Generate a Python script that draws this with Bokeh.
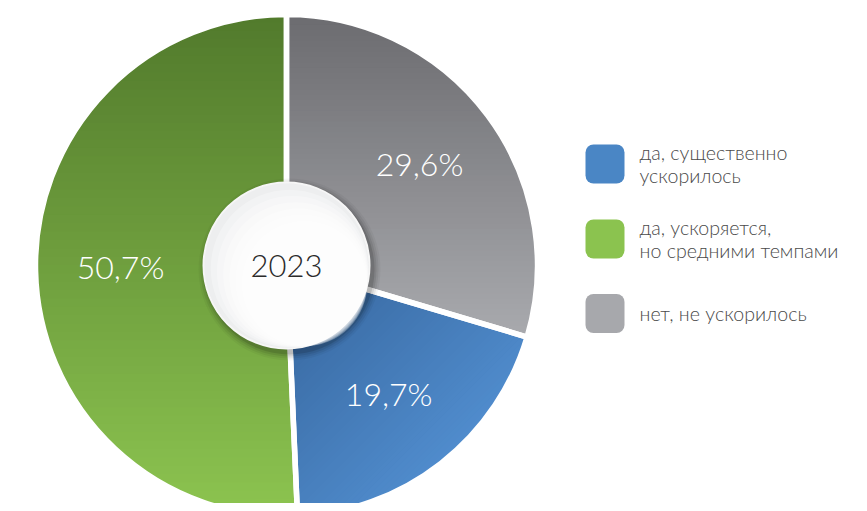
import numpy as np
from bokeh.plotting import figure
from bokeh.models import Range1d, ColumnDataSource, BoxAnnotation
from bokeh.core.properties import value
from bokeh.embed import file_html
from bokeh.resources import INLINE

# ---- data ----
slice_labels = ["нет, не ускорилось", "да, существенно ускорилось", "да, ускоряется, но средними темпами"]
slice_values = [29.6, 19.7, 50.7]
slice_dark = ["#6b6b6f", "#35649b", "#527a2c"]
slice_light = ["#a9aaae", "#508ccd", "#8cc450"]
value_texts = ["29,6%", "19,7%", "50,7%"]
center_text = "2023"

legend_texts = ["да, существенно\nускорилось", "да, ускоряется,\nно средними темпами", "нет, не ускорилось"]
legend_colors = ["#4a86c5", "#8bc34f", "#a7a8ac"]

FONT = value("Lato Light, Lato, sans-serif")

# ---- geometry (data coords follow screen px: data y = 511 - screen y) ----
W, H = 859, 503
cx, cy = 286, 511 - 265
R = 251
r_in = 83

p = figure(width=W, height=H, x_range=Range1d(0, 859), y_range=Range1d(8, 511),
           output_backend="svg", toolbar_location=None, min_border=0,
           min_border_left=0, min_border_right=0, min_border_top=0, min_border_bottom=0)
p.axis.visible = False
p.grid.visible = False
p.outline_line_color = None
p.background_fill_color = "white"

vals = np.array(slice_values, dtype=float)
frac = vals / vals.sum()
cum_end = np.cumsum(frac)
cum_start = cum_end - frac
start = np.pi / 2 - 2 * np.pi * cum_start
end = np.pi / 2 - 2 * np.pi * cum_end
mid = (start + end) / 2

# gradient directions for each slice (unit vectors, data coords)
grad_dirs = [(0.0, -1.0), (0.7071, -0.7071), (0.0, -1.0)]


def hex2rgb(h):
    h = h.lstrip("#")
    return np.array([int(h[i:i + 2], 16) for i in (0, 2, 4)], dtype=float)


def rgb2hex(c):
    c = np.clip(np.round(c), 0, 255).astype(int)
    return "#%02x%02x%02x" % tuple(c)


def clip_half(poly, n, c):
    # keep points where n . p >= c
    out = []
    m = len(poly)
    for i in range(m):
        a = poly[i]
        b = poly[(i + 1) % m]
        da = n[0] * a[0] + n[1] * a[1] - c
        db = n[0] * b[0] + n[1] * b[1] - c
        if da >= 0:
            out.append(a)
        if (da >= 0) != (db >= 0):
            t = da / (da - db)
            out.append((a[0] + t * (b[0] - a[0]), a[1] + t * (b[1] - a[1])))
    return out


xs, ys, cols = [], [], []
NB = 60
for i in range(3):
    ang = np.linspace(start[i], end[i], 240)
    poly = [(cx, cy)] + [(cx + R * np.cos(a), cy + R * np.sin(a)) for a in ang]
    d = grad_dirs[i]
    tvals = [d[0] * x + d[1] * y for x, y in poly]
    tmin, tmax = min(tvals), max(tvals)
    c0, c1 = hex2rgb(slice_dark[i]), hex2rgb(slice_light[i])
    edges = np.linspace(tmin, tmax, NB + 1)
    for k in range(NB):
        band = clip_half(poly, d, edges[k] - 0.6)
        band = clip_half(band, (-d[0], -d[1]), -(edges[k + 1] + 0.6))
        if len(band) < 3:
            continue
        f = (k + 0.5) / NB
        xs.append([q[0] for q in band])
        ys.append([q[1] for q in band])
        cols.append(rgb2hex(c0 + (c1 - c0) * f))

p.patches(xs="xs", ys="ys", source=ColumnDataSource(dict(xs=xs, ys=ys, c=cols)),
          fill_color="c", line_color=None)

# white separators between slices
src = ColumnDataSource(dict(x=[cx] * 3, y=[cy] * 3, start=start, end=end))
p.wedge(x="x", y="y", radius=R, start_angle="start", end_angle="end", direction="clock",
        fill_color=None, line_color="white", line_width=5.5, source=src)

# value labels
lr = 166
lsrc = ColumnDataSource(dict(x=cx + lr * np.cos(mid), y=cy + lr * np.sin(mid) + 3, t=value_texts))
p.text(x="x", y="y", text="t", source=lsrc, text_color="white", text_font=FONT,
       text_font_size="32px", text_align="center", text_baseline="middle")

# center circle with shadow
for rr, a in [(91, 0.04), (89, 0.06), (87, 0.08), (85, 0.12)]:
    p.circle(x=[cx + 3], y=[cy - 4], radius=rr, fill_color="black", fill_alpha=a, line_color=None)
p.circle(x=[cx], y=[cy], radius=r_in, fill_color="#e6e7e9", line_color="#f6f6f6", line_width=2)
for k in range(7):
    p.circle(x=[cx + 3 * k], y=[cy - 3 * k], radius=r_in - 1 - 3.2 * k, fill_color="white",
             fill_alpha=0.3, line_color=None)
p.text(x=[cx], y=[cy], text=[center_text], text_color="#2b2b2b", text_font=FONT,
       text_font_size="31px", text_align="center", text_baseline="middle")

# legend
leg_y = np.array([163.5, 238.5, 313.0])
for yy, col in zip(leg_y, legend_colors):
    p.add_layout(BoxAnnotation(left=585, right=624, top=511 - yy + 19.5, bottom=511 - yy - 19.5,
                               fill_color=col, fill_alpha=1, line_color=None, border_radius=8))
tsrc = ColumnDataSource(dict(x=[639] * 3, y=511 - leg_y, t=legend_texts))
p.text(x="x", y="y", text="t", source=tsrc, text_color="#4a4a4a", text_font=FONT,
       text_font_size="19.6px", text_align="left", text_baseline="middle", text_line_height=0.96)

open("out.html", "w").write(file_html(p, INLINE))
